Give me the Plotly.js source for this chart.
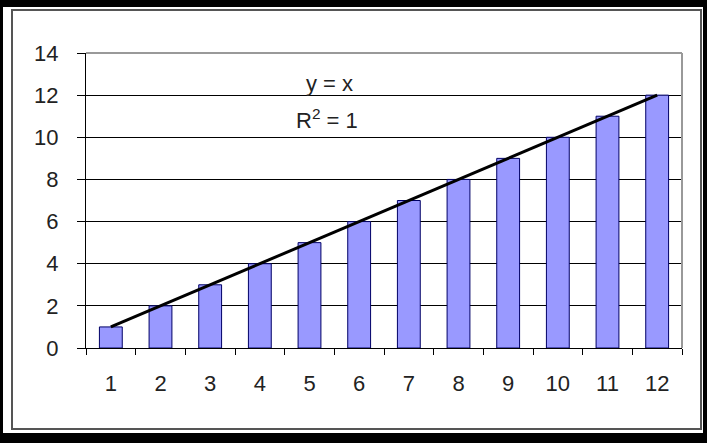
<!DOCTYPE html>
<html>
<head>
<meta charset="utf-8">
<script src="https://cdn.plot.ly/plotly-3.0.1.min.js"></script>
<style>
  body { margin: 0; background: #fff; }
  #wrap { position: relative; width: 707px; height: 443px; overflow: hidden; }
  #myDiv { position: absolute; left: 0; top: 0; width: 707px; height: 443px; }
  .outer { position: absolute; left: 0; top: 0; width: 707px; height: 443px; box-sizing: border-box;
           border-style: solid; border-color: #000; border-width: 7px 4px 10px 3px; pointer-events: none; }
  .inner { position: absolute; left: 11px; top: 9px; width: 691px; height: 421px; box-sizing: border-box;
           border: 2px solid #555; pointer-events: none; }
</style>
</head>
<body>
<div id="wrap">
  <div id="myDiv"></div>
  <div class="outer"></div>
  <div class="inner"></div>
</div>
<script>
var categories = ['1', '2', '3', '4', '5', '6', '7', '8', '9', '10', '11', '12'];
var values = [1, 2, 3, 4, 5, 6, 7, 8, 9, 10, 11, 12];
// linear trendline y = x, ends at first and last category
var trendX = ['1', '12'];
var trendY = [1, 12];
var yTicks = [0, 2, 4, 6, 8, 10, 12, 14];

var labelFont = {
    family: 'Liberation Sans, Arial, sans-serif',
    size: 22,
    color: '#222'
};

var bars = {
    x: categories,
    y: values,
    type: 'bar',
    marker: {
        color: '#9999ff',
        line: { color: '#000066', width: 1 }
    },
    hoverinfo: 'none'
};

var trend = {
    x: trendX,
    y: trendY,
    mode: 'lines',
    type: 'scatter',
    line: { color: '#000', width: 3 },
    hoverinfo: 'none'
};

var layout = {
    width: 707,
    height: 443,
    margin: { l: 86, r: 25, t: 53, b: 95 },
    paper_bgcolor: '#fff',
    plot_bgcolor: '#fff',
    showlegend: false,
    bargap: 0.54,
    font: labelFont,
    xaxis: {
        type: 'category',
        tickson: 'boundaries',
        showgrid: false,
        zeroline: false,
        showline: true,
        linecolor: '#000',
        linewidth: 1,
        ticks: 'outside',
        ticklen: 6,
        tickcolor: '#000',
        ticklabelstandoff: 16,
        tickfont: labelFont
    },
    yaxis: {
        range: [0, 14],
        tickvals: yTicks,
        showgrid: true,
        gridcolor: '#000',
        gridwidth: 1,
        zeroline: false,
        showline: true,
        linecolor: '#000',
        linewidth: 1,
        ticks: 'outside',
        ticklen: 8,
        tickcolor: '#000',
        ticklabelstandoff: 14,
        tickfont: labelFont
    },
    shapes: [
        // plot area border, top and right are grey
        { type: 'line', xref: 'paper', yref: 'paper', x0: 0, x1: 1, y0: 1, y1: 1,
          line: { color: '#999', width: 2 } },
        { type: 'line', xref: 'paper', yref: 'paper', x0: 1, x1: 1, y0: 0, y1: 1,
          line: { color: '#999', width: 2 } }
    ],
    annotations: [
        { text: 'y = x', xref: 'paper', yref: 'paper', x: 0.409, y: 0.895,
          xanchor: 'center', yanchor: 'middle', showarrow: false, font: labelFont },
        { text: 'R<sup>2</sup> = 1', xref: 'paper', yref: 'paper', x: 0.404, y: 0.775,
          xanchor: 'center', yanchor: 'middle', showarrow: false, font: labelFont }
    ]
};

var config = { displayModeBar: false, staticPlot: true };

Plotly.newPlot('myDiv', [bars, trend], layout, config);
</script>
</body>
</html>
